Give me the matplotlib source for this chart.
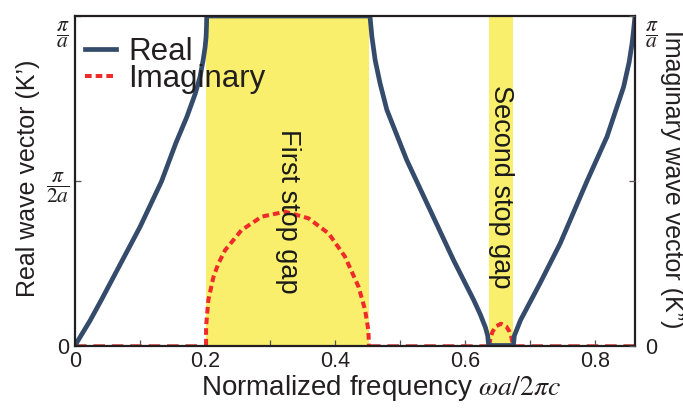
import matplotlib
matplotlib.use("Agg")
import matplotlib.pyplot as plt
from matplotlib.transforms import ScaledTranslation

plt.rcParams["font.family"] = ["Liberation Sans", "DejaVu Sans"]
plt.rcParams["mathtext.fontset"] = "stix"

# Normalized frequency (omega a / 2 pi c) and wave vector in units of pi/a
freq_real = [0.000, 0.023, 0.041, 0.100, 0.133, 0.155, 0.172, 0.185, 0.1923, 0.197,
             0.200, 0.2015, 0.2022, 0.2025,
             0.4535, 0.4565, 0.4615, 0.469, 0.4795, 0.510, 0.546, 0.582, 0.613,
             0.623, 0.631, 0.6345, 0.636,
             0.674, 0.6755, 0.679, 0.685, 0.700, 0.715, 0.746, 0.787, 0.818,
             0.8435, 0.852, 0.8565, 0.859, 0.861]
k_real = [0.000, 0.075, 0.140, 0.360, 0.498, 0.614, 0.694, 0.765, 0.816, 0.866,
          0.905, 0.935, 0.970, 1.000,
          1.000, 0.937, 0.866, 0.796, 0.715, 0.563, 0.411, 0.259, 0.138,
          0.095, 0.055, 0.030, 0.000,
          0.000, 0.030, 0.047, 0.077, 0.133, 0.189, 0.310, 0.498, 0.634,
          0.785, 0.860, 0.917, 0.960, 1.000]

# Imaginary part inside the first and second stop gaps
freq_imag1 = [0.2015, 0.2015, 0.205, 0.213, 0.2205, 0.231, 0.256, 0.287, 0.323,
              0.359, 0.390, 0.415, 0.436, 0.446, 0.451, 0.452]
k_imag1 = [0.000, 0.057, 0.138, 0.209, 0.249, 0.290, 0.350, 0.391, 0.406,
           0.386, 0.340, 0.270, 0.178, 0.108, 0.047, 0.000]
freq_imag2 = [0.637, 0.639, 0.642, 0.647, 0.655, 0.663, 0.668, 0.671, 0.673]
k_imag2 = [0.000, 0.025, 0.042, 0.058, 0.066, 0.058, 0.042, 0.025, 0.000]

# Imaginary part vanishes inside the pass bands
pass_bands = [(0.0, 0.2015), (0.452, 0.637), (0.673, 0.861)]

# Stop gap limits
gap1 = (0.2015, 0.452)
gap2 = (0.637, 0.673)

x_ticks = [0.0, 0.2, 0.4, 0.6, 0.8]
x_tick_labels = ["0", "0.2", "0.4", "0.6", "0.8"]
x_minor = [0.1, 0.3, 0.5, 0.7]
y_ticks = [0.0, 0.5, 1.0]
y_tick_labels = ["0", r"$\dfrac{\pi}{2a}$", r"$\dfrac{\pi}{a}$"]
y2_tick_labels = ["0", "", r"$\dfrac{\pi}{a}$"]

navy = "#344b6b"
red = "#ee2a2a"
yellow = "#f9ef6c"
frame = "#231f20"

fig = plt.figure(figsize=(6.83, 4.08), dpi=100)
ax = fig.add_axes([75 / 683, 1 - 345.5 / 408, 560 / 683, 329.5 / 408])
ax.set_xlim(0.0, 0.861)
ax.set_ylim(0.0, 1.0)

ax.axvspan(*gap1, color=yellow, lw=0, zorder=0)
ax.axvspan(*gap2, color=yellow, lw=0, zorder=0)

ax.plot(freq_real, k_real, color=navy, lw=3.4, solid_joinstyle="round",
        label="Real", zorder=3)
imag_style = dict(color=red, lw=2.9, dashes=(1.65, 1.0), dash_capstyle="butt")
ax.plot(freq_imag1, k_imag1, label="Imaginary", zorder=2.6, **imag_style)
ax.plot(freq_imag2, k_imag2, zorder=2.6, **imag_style)
for lo, hi in pass_bands:
    ax.plot([lo, hi], [0, 0], color="#d9443f", lw=2.6, dashes=(3.2, 1.9),
            zorder=2.4)

ax.text(0.328, 0.408, "First stop gap", rotation=-90, ha="center",
        va="center", fontsize=19.5, color="#1a1a1a")
ax.text(0.655, 0.483, "Second stop gap", rotation=-90, ha="center",
        va="center", fontsize=19.5, color="#1a1a1a")

for s in ax.spines.values():
    s.set_color(frame)
    s.set_linewidth(1.6)
    s.set_zorder(4)

ax.set_xticks(x_ticks)
ax.set_xticklabels(x_tick_labels)
ax.set_xticks(x_minor, minor=True)
ax.set_yticks(y_ticks)
ax.set_yticklabels(y_tick_labels)
ax.tick_params(axis="both", which="both", direction="in", length=4,
               width=0.9, color="#555555", labelsize=15.5,
               labelcolor="#231f20")
ax.tick_params(axis="x", pad=4)
ax.tick_params(axis="y", pad=4)

ax2 = ax.twinx()
ax2.set_ylim(0.0, 1.0)
ax2.set_yticks(y_ticks)
ax2.set_yticklabels(y2_tick_labels)
ax2.tick_params(axis="y", direction="in", length=4, width=0.9,
                color="#555555", labelsize=15.5, labelcolor="#231f20", pad=7)
for s in ax2.spines.values():
    s.set_visible(False)

# Shift the top fraction labels below the axis corner
shift = ScaledTranslation(0, -13 / 100, fig.dpi_scale_trans)
for axis in (ax.yaxis, ax2.yaxis):
    for tick in axis.get_major_ticks():
        if abs(tick.get_loc() - 1.0) < 1e-9:
            for lab in (tick.label1, tick.label2):
                lab.set_transform(lab.get_transform() + shift)

ax.set_xlabel(r"Normalized frequency $\omega a/2\pi c$", fontsize=20,
              color="#231f20")
ax.xaxis.set_label_coords(0.546, -0.083)
ax.set_ylabel("Real wave vector (K\u2019)", fontsize=18, color="#231f20")
ax.yaxis.set_label_coords(-0.063, 0.507)
ax2.set_ylabel("Imaginary wave vector (K\u201d)", fontsize=18,
               color="#231f20", rotation=-90, va="bottom")
ax2.yaxis.set_label_coords(1.045, 0.505)

leg = ax.legend(loc="upper left", bbox_to_anchor=(0.0175, 0.936),
                frameon=False, fontsize=22.5, handlelength=1.0,
                handletextpad=0.4, labelspacing=-0.1, borderpad=0.0,
                borderaxespad=0.0)
for t in leg.get_texts():
    t.set_color("#231f20")

fig.savefig("out.png", dpi=100)
